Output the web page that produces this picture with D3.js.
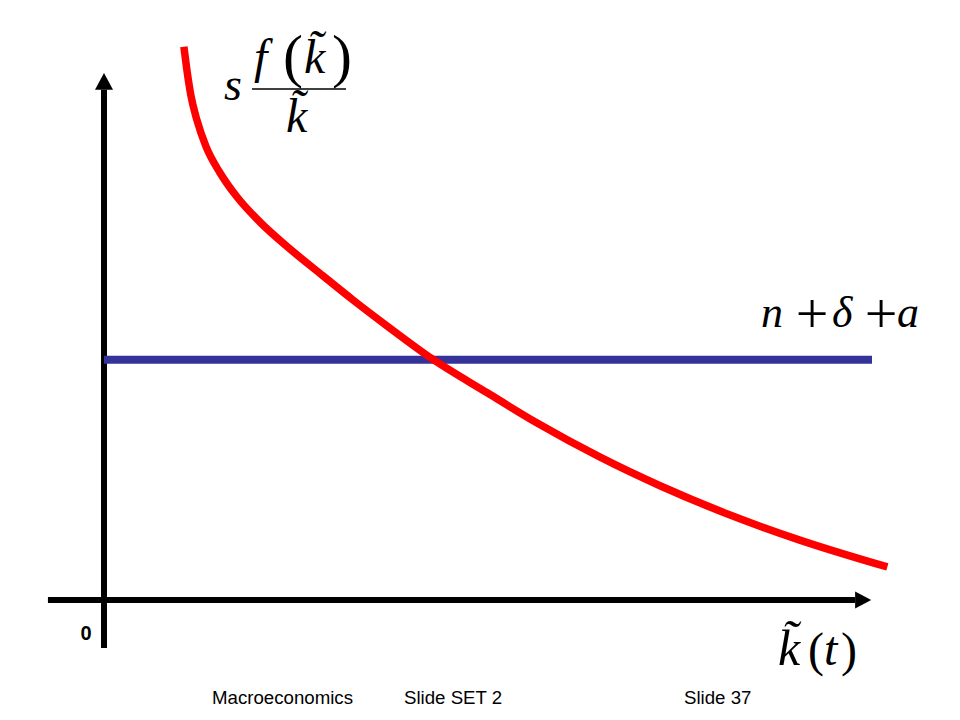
<!DOCTYPE html>
<html>
<head>
<meta charset="utf-8">
<script src="https://cdn.jsdelivr.net/npm/d3@7/dist/d3.min.js"></script>
<style>
  html, body { margin: 0; padding: 0; background: #ffffff; }
  svg { display: block; }
  .math { font-family: "Liberation Serif", "Times New Roman", serif; font-style: italic; fill: #000; }
  .mathup { font-family: "Liberation Serif", "Times New Roman", serif; font-style: normal; fill: #000; }
  .foot { font-family: "Liberation Sans", Arial, sans-serif; font-size: 18.67px; fill: #000; }
</style>
</head>
<body>
<svg id="chart" width="960" height="720"></svg>
<script>
// ---- data ----
const kValues      = [1.04, 1.08, 1.13, 1.21, 1.33, 1.51, 1.73, 2.03, 2.42, 2.85, 3.24, 3.69, 4.28, 4.99, 5.64, 6.46, 7.24, 8.11, 9.06, 10.2];
const savingValues = [9.88, 9.46, 9.02, 8.57, 8.09, 7.63, 7.20, 6.75, 6.27, 5.79, 5.36, 4.89, 4.30, 3.70, 3.16, 2.55, 2.04, 1.54, 1.07, 0.59];
const breakEvenK   = [0, 10];
const breakEvenValue = 4.29;
const footerLabels = ["Macroeconomics", "Slide SET 2", "Slide 37"];
const originLabel = "0";

// ---- scales ----
const svg = d3.select("#chart");
const x = d3.scaleLinear().domain([0, 10]).range([104, 872]);
const y = d3.scaleLinear().domain([0, 10]).range([600, 40]);

// ---- axes (arrows) ----
const axisX0 = -0.73, axisXEnd = 9.78, axisXTip = 9.99;
const axisY0 = -0.857, axisYEnd = 9.11, axisYTip = 9.41;

svg.append("line")
  .attr("x1", x(axisX0)).attr("x2", x(axisXEnd))
  .attr("y1", y(0)).attr("y2", y(0))
  .attr("stroke", "#000").attr("stroke-width", 6);
svg.append("path")
  .attr("d", `M${x(axisXTip)},${y(0)} L${x(axisXEnd)},${y(0) - 8.5} L${x(axisXEnd)},${y(0) + 8.5} Z`)
  .attr("fill", "#000");

svg.append("line")
  .attr("x1", x(0)).attr("x2", x(0))
  .attr("y1", y(axisY0)).attr("y2", y(axisYEnd))
  .attr("stroke", "#000").attr("stroke-width", 6);
svg.append("path")
  .attr("d", `M${x(0)},${y(axisYTip)} L${x(0) - 9},${y(axisYEnd)} L${x(0) + 9},${y(axisYEnd)} Z`)
  .attr("fill", "#000");

// ---- break-even line ----
svg.append("line")
  .attr("x1", x(breakEvenK[0])).attr("x2", x(breakEvenK[1]))
  .attr("y1", y(breakEvenValue)).attr("y2", y(breakEvenValue))
  .attr("stroke", "#333399").attr("stroke-width", 8);

// ---- saving curve ----
const pts = kValues.map((k, i) => [k, savingValues[i]]);
const line = d3.line().x(d => x(d[0])).y(d => y(d[1])).curve(d3.curveMonotoneX);
svg.append("path")
  .attr("d", line(pts))
  .attr("fill", "none")
  .attr("stroke", "#ff0000")
  .attr("stroke-width", 7.5);

// ---- origin label ----
svg.append("text")
  .attr("x", 86).attr("y", 640)
  .attr("text-anchor", "middle")
  .attr("font-family", "Liberation Sans, Arial, sans-serif")
  .attr("font-weight", "bold")
  .attr("font-size", 20)
  .text(originLabel);

// ---- formula: s f(k~)/k~ ----
const f1 = svg.append("g");
f1.append("text").attr("class", "math").attr("font-size", 46).attr("x", 224).attr("y", 100).text("s");
f1.append("text").attr("class", "math").attr("font-size", 48).attr("x", 254).attr("y", 73).text("f");
f1.append("text").attr("class", "mathup").attr("font-size", 60).attr("x", 283).attr("y", 76).text("(");
f1.append("text").attr("class", "math").attr("font-size", 48).attr("x", 304).attr("y", 73).text("k\u0303");
f1.append("text").attr("class", "mathup").attr("font-size", 60).attr("x", 332).attr("y", 76).text(")");
f1.append("line").attr("x1", 252).attr("x2", 346).attr("y1", 89).attr("y2", 89).attr("stroke", "#000").attr("stroke-width", 1.6);
f1.append("text").attr("class", "math").attr("font-size", 48).attr("x", 286).attr("y", 132).text("k\u0303");

// ---- formula: n + δ + a ----
const f2 = svg.append("g");
f2.append("text").attr("class", "math").attr("font-size", 44).attr("x", 761).attr("y", 327).text("n");
f2.append("text").attr("class", "mathup").attr("font-size", 58).attr("x", 812).attr("y", 333).attr("text-anchor", "middle").text("+");
f2.append("text").attr("class", "math").attr("font-size", 44).attr("x", 832).attr("y", 327).text("δ");
f2.append("text").attr("class", "mathup").attr("font-size", 58).attr("x", 881).attr("y", 333).attr("text-anchor", "middle").text("+");
f2.append("text").attr("class", "math").attr("font-size", 44).attr("x", 897).attr("y", 327).text("a");

// ---- formula: k~(t) ----
const f3 = svg.append("g");
f3.append("text").attr("class", "math").attr("font-size", 50).attr("x", 778).attr("y", 665).text("k\u0303");
f3.append("text").attr("class", "mathup").attr("font-size", 48).attr("x", 808).attr("y", 666).text("(");
f3.append("text").attr("class", "math").attr("font-size", 48).attr("x", 824).attr("y", 665).text("t");
f3.append("text").attr("class", "mathup").attr("font-size", 48).attr("x", 841).attr("y", 666).text(")");

// ---- footer ----
const footX = [212, 404, 684];
svg.selectAll("text.foot").data(footerLabels).enter().append("text")
  .attr("class", "foot")
  .attr("x", (d, i) => footX[i]).attr("y", 704)
  .text(d => d);
</script>
</body>
</html>
